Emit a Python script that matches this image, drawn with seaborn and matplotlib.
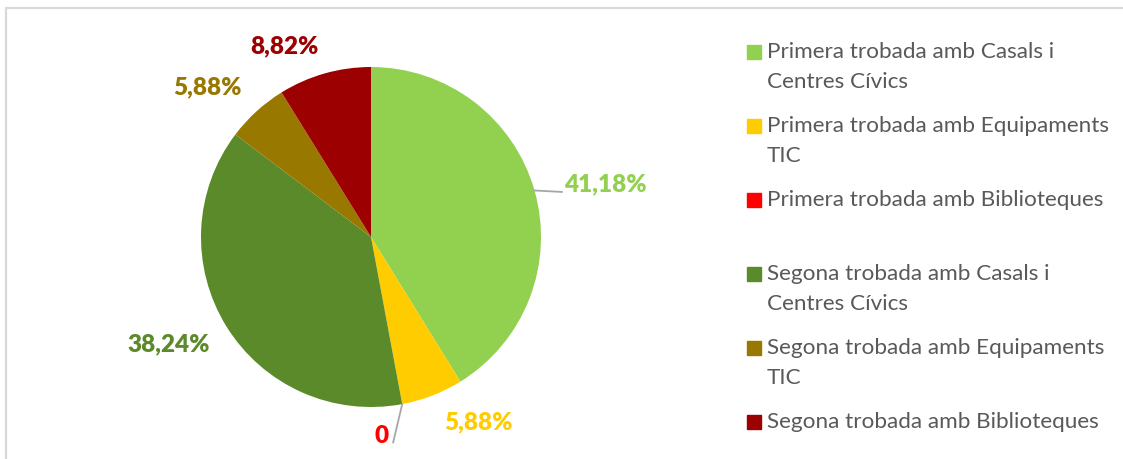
import matplotlib.pyplot as plt
import seaborn as sns
from matplotlib.lines import Line2D
from matplotlib.patches import Rectangle
import numpy as np

sns.set_theme(style="white")
plt.rcParams['font.family'] = ['Lato', 'DejaVu Sans']

# ------------------------------
# data
# ------------------------------
categories = [
    "Primera trobada amb Casals i\nCentres Cívics",
    "Primera trobada amb Equipaments\nTIC",
    "Primera trobada amb Biblioteques",
    "Segona trobada amb Casals i\nCentres Cívics",
    "Segona trobada amb Equipaments\nTIC",
    "Segona trobada amb Biblioteques",
]
shares = [41.18, 5.88, 0, 38.24, 5.88, 8.82]
value_labels = ["41,18%", "5,88%", "0", "38,24%", "5,88%", "8,82%"]
colors = ["#92D050", "#FFCC00", "#FF0000", "#5A8A29", "#997800", "#9C0000"]

# label positions in pie units (radius = 1)
label_pos = [(1.38, 0.31), (0.63, -1.09), (0.06, -1.172), (-1.19, -0.63),
             (-0.96, 0.88), (-0.51, 1.12)]

W, H = 1123, 459
fig = plt.figure(figsize=(W / 100, H / 100), dpi=100)

cx, cy, r = 371, 237, 170
ax = fig.add_axes([(cx - r) / W, (H - cy - r) / H, 2 * r / W, 2 * r / H])

palette = sns.color_palette(colors)
wedges, _ = ax.pie(shares, colors=palette, startangle=90, counterclock=False,
                   wedgeprops=dict(linewidth=0))
ax.set_xlim(-1, 1)
ax.set_ylim(-1, 1)
ax.set_aspect("equal")
ax.axis("off")

for (x, y), txt, c in zip(label_pos, value_labels, colors):
    ax.text(x, y, txt, color=c, fontsize=17.5, fontweight="heavy",
            ha="center", va="center", clip_on=False)

# leader lines for the 41,18% and the 0 labels
for w, end in [(wedges[0], (1.124, 0.265)), (wedges[2], (0.13, -1.21))]:
    a = np.deg2rad((w.theta1 + w.theta2) / 2)
    ax.plot([np.cos(a), end[0]], [np.sin(a), end[1]], color="#A6A6A6",
            lw=1.3, clip_on=False)

# ------------------------------
# legend
# ------------------------------
y0, step = 52, 74
for i, (lab, c) in enumerate(zip(categories, colors)):
    y = y0 + i * step
    fig.patches.append(Rectangle((747 / W, 1 - (y + 7) / H), 14 / W, 14 / H,
                                 transform=fig.transFigure, color=c))
    fig.text(767 / W, 1 - (y - 10) / H, lab, color="#595959", fontsize=16.2,
             ha="left", va="top", linespacing=1.62)

# chart frame (only top and left visible)
fig.add_artist(Line2D([6 / W, 1], [1 - 8 / H, 1 - 8 / H], color="#D9D9D9", lw=1.6))
fig.add_artist(Line2D([6 / W, 6 / W], [0, 1 - 8 / H], color="#D9D9D9", lw=1.6))

fig.savefig("out.png", dpi=100)
plt.close()
